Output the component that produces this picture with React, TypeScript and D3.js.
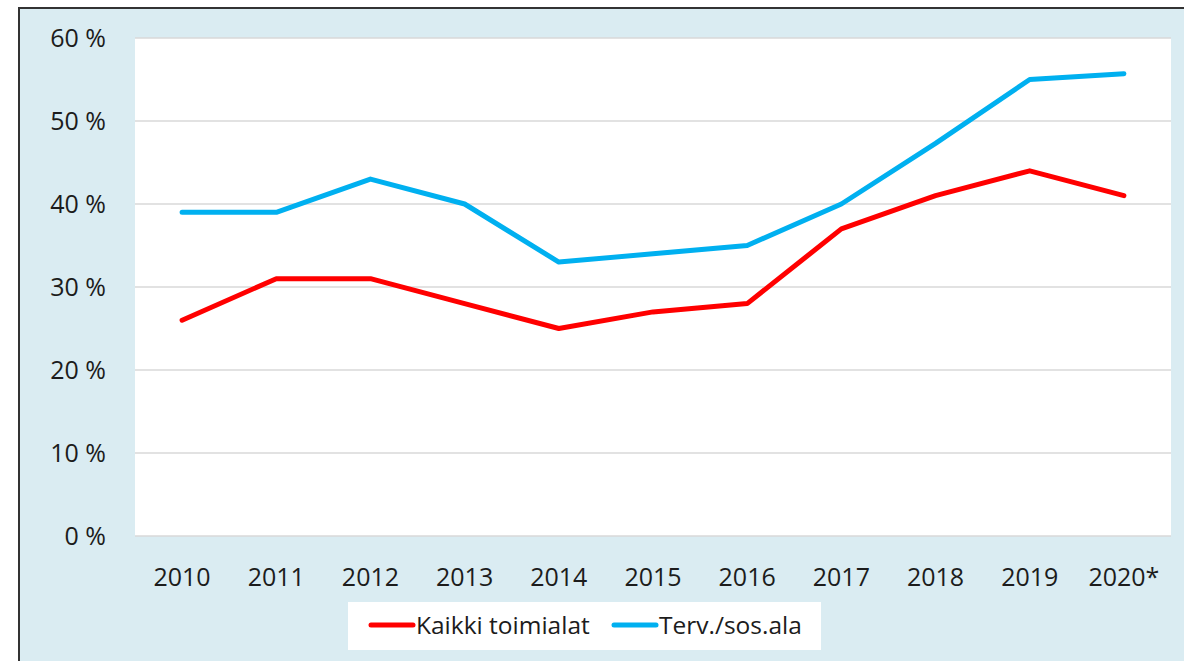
import React from 'react';
import * as d3 from 'd3';

const years = ['2010', '2011', '2012', '2013', '2014', '2015', '2016', '2017', '2018', '2019', '2020*'];
const kaikki = [26, 31, 31, 28, 25, 27, 28, 37, 41, 44, 41];
const terv = [39, 39, 43, 40, 33, 34, 35, 40, 47.3, 55, 55.7];
const yTicks = [0, 10, 20, 30, 40, 50, 60];
const seriesNames = ['Kaikki toimialat', 'Terv./sos.ala'];
const colors = ['#ff0000', '#00b0f0'];

const W = 1184;
const H = 661;
const plot = { left: 135, right: 1171, top: 38, bottom: 536 };
const font = '"Open Sans", sans-serif';

export default function App() {
  const x = d3.scaleBand<string>().domain(years).range([plot.left, plot.right]);
  const y = d3.scaleLinear().domain([0, 60]).range([plot.bottom, plot.top]);
  const line = d3.line<number>()
    .x((_, i) => (x(years[i]) as number) + x.bandwidth() / 2)
    .y(d => y(d));

  const series = [kaikki, terv];

  return (
    <svg width={W} height={H} style={{ position: 'absolute', left: 0, top: 0 }} fontFamily={font}>
      <rect x={0} y={0} width={W} height={H} fill="#fff" />
      <rect x={19} y={8} width={W + 20} height={H + 20} fill="#daecf2" stroke="#333" strokeWidth={2} />
      <rect x={plot.left} y={plot.top} width={plot.right - plot.left} height={plot.bottom - plot.top} fill="#fff" />

      {yTicks.map(t => (
        <g key={t}>
          <line x1={plot.left} x2={plot.right} y1={y(t)} y2={y(t)} stroke="#d9d9d9" strokeWidth={1.3} />
          <text x={106} y={y(t)} dy="0.35em" textAnchor="end" fontSize={25} fill="#1c1c1c">{`${t} %`}</text>
        </g>
      ))}

      {years.map(yr => (
        <text key={yr} x={(x(yr) as number) + x.bandwidth() / 2} y={577} dy="0.35em" textAnchor="middle" fontSize={25} fill="#1c1c1c">{yr}</text>
      ))}

      {series.map((s, i) => (
        <path key={i} d={line(s) ?? ''} fill="none" stroke={colors[i]} strokeWidth={5} strokeLinejoin="round" strokeLinecap="round" />
      ))}

      <rect x={348} y={602} width={473} height={48} fill="#fff" />
      {seriesNames.map((n, i) => {
        const lx = i === 0 ? 371 : 614;
        return (
          <g key={n}>
            <line x1={lx} x2={lx + 42} y1={625} y2={625} stroke={colors[i]} strokeWidth={5} strokeLinecap="round" />
            <text x={lx + 45} y={625} dy="0.35em" fontSize={24.5} fill="#1c1c1c">{n}</text>
          </g>
        );
      })}
    </svg>
  );
}
